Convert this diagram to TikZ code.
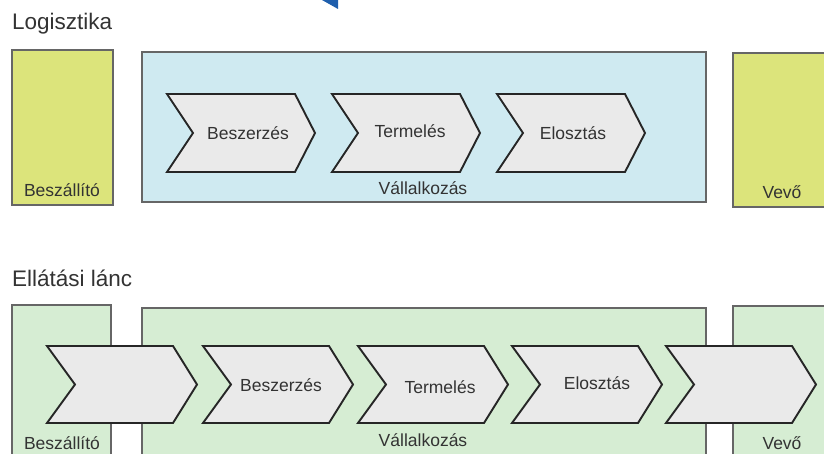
\documentclass[tikz,border=0pt]{standalone}
\usepackage{fontspec}
\setmainfont{Liberation Sans}
\usetikzlibrary{positioning}
\definecolor{szallcol}{HTML}{DCE47B}
\definecolor{vallcol}{HTML}{CFEAF1}
\definecolor{lanccol}{HTML}{D6EDD3}
\definecolor{chevcol}{HTML}{EAEAEA}
\definecolor{txtcol}{HTML}{333333}
\definecolor{kekcol}{HTML}{1F5FAD}

\begin{document}
\begin{tikzpicture}[x=1pt,y=-1pt]
\tikzstyle{box}=[draw=black!60, line width=1.1pt, inner sep=0pt]
\tikzstyle{chev}=[draw=black!85, fill=chevcol, line width=1.9pt, line join=miter]
\tikzstyle{lbl}=[text=txtcol, font=\fontsize{17.5}{19}\selectfont, inner sep=0pt]
\tikzstyle{title}=[text=black!80, font=\fontsize{22.5}{25}\selectfont, inner sep=0pt, anchor=west]
\useasboundingbox (0,0) rectangle (824,454);
\clip (0,0) rectangle (824,454);
\fill[kekcol] (322,0) -- (338,0) -- (338,9) -- cycle;
% Logisztika
\node[title] (log) at (12,24) {Logisztika};
\draw[box, fill=szallcol] (12,50) rectangle (113,205);
\draw[box, fill=vallcol] (142,52) rectangle (706,202);
\draw[box, fill=szallcol] (733,53) rectangle (840,207);
\foreach \x in {167,332,497}
{
\draw[chev] (\x,94) -- ++(128,0) -- ++(20,39) -- ++(-20,39) -- ++(-128,0) -- ++(26,-39) -- cycle;
}
\node[lbl] (besz1) at (248,133) {Beszerzés};
\node[lbl] (term1) at (410,131) {Termelés};
\node[lbl] (elo1) at (573,133) {Elosztás};
\node[lbl] (szall1) at (62,190) {Beszállító};
\node[lbl] (vall1) at (423,188) {Vállalkozás};
\node[lbl] (vevo1) at (782,192) {Vevő};
% Ellatasi lanc
\node[title] (lanc) at (12,278) {Ellátási lánc};
\draw[box, fill=lanccol] (12,305) rectangle (111,480);
\draw[box, fill=lanccol] (142,308) rectangle (706,480);
\draw[box, fill=lanccol] (733,306) rectangle (840,480);
\foreach \x in {47,203,358,512,666}
{
\draw[chev] (\x,346) -- ++(126,0) -- ++(24,38.5) -- ++(-24,38.5) -- ++(-126,0) -- ++(28,-38.5) -- cycle;
}
\node[lbl] (besz2) at (281,385) {Beszerzés};
\node[lbl] (term2) at (440,387) {Termelés};
\node[lbl] (elo2) at (597,383) {Elosztás};
\node[lbl] (szall2) at (62,443) {Beszállító};
\node[lbl] (vall2) at (423,440) {Vállalkozás};
\node[lbl] (vevo2) at (782,443) {Vevő};
\end{tikzpicture}
\end{document}
